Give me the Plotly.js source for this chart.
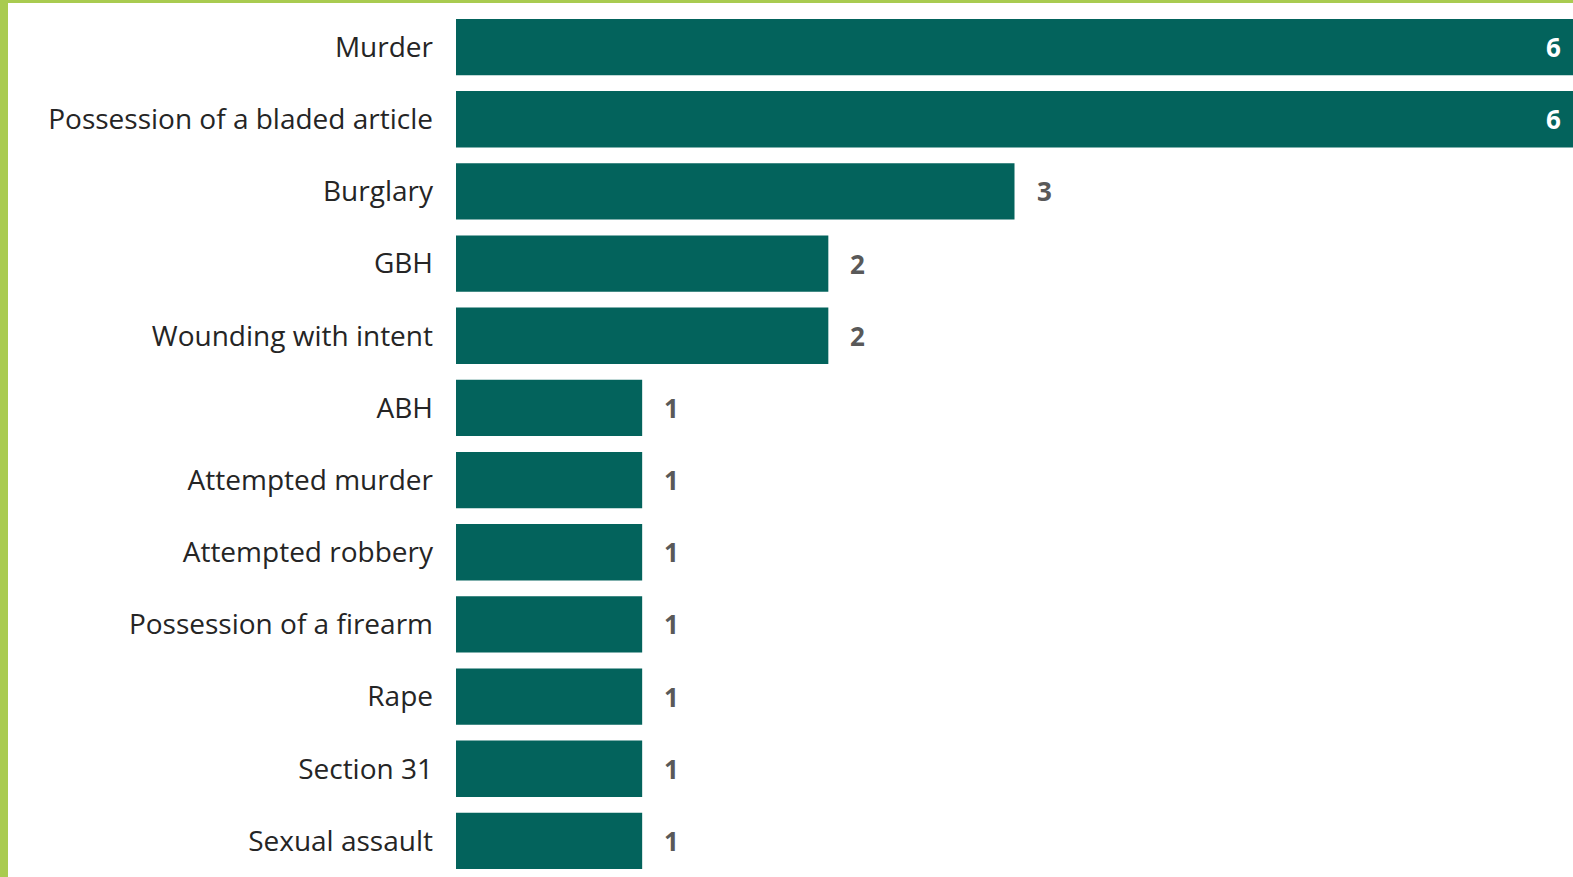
<!DOCTYPE html>
<html>
<head>
<meta charset="utf-8">
<script src="https://cdn.plot.ly/plotly-3.0.1.min.js"></script>
<style>
  html, body { margin: 0; padding: 0; background: #fff; overflow: hidden; }
  #chart { position: absolute; left: 0; top: 0; width: 1573px; height: 877px; }
  #bl { position: absolute; left: 0; top: 0; width: 8px; height: 877px; background: #a9cb50; }
  #bt { position: absolute; left: 0; top: 0; width: 1573px; height: 3px; background: #a9cb50; }
</style>
</head>
<body>
<div id="chart"></div>
<div id="bl"></div>
<div id="bt"></div>
<script>
const categories = [
  "Murder",
  "Possession of a bladed article",
  "Burglary",
  "GBH",
  "Wounding with intent",
  "ABH",
  "Attempted murder",
  "Attempted robbery",
  "Possession of a firearm",
  "Rape",
  "Section 31",
  "Sexual assault"
];
const counts = [6, 6, 3, 2, 2, 1, 1, 1, 1, 1, 1, 1];

const maxVal = Math.max(...counts);
const FONT = "'Open Sans', 'Noto Sans', sans-serif";

const annotations = categories.map((c, i) => {
  const inside = counts[i] >= maxVal;
  return {
    x: counts[i], y: c, xref: 'x', yref: 'y',
    text: String(counts[i]),
    showarrow: false,
    xanchor: inside ? 'right' : 'left',
    xshift: inside ? -10 : 20,
    font: { family: FONT, size: 26, color: inside ? '#ffffff' : '#595959', weight: 'bold' }
  };
});

const trace = {
  type: 'bar',
  orientation: 'h',
  x: counts,
  y: categories,
  marker: { color: '#03635c' },
  hoverinfo: 'none'
};

const layout = {
  width: 1573, height: 877,
  margin: { l: 456, r: 0, t: 11, b: 0 },
  paper_bgcolor: '#ffffff',
  plot_bgcolor: '#ffffff',
  bargap: 0.22,
  showlegend: false,
  xaxis: { range: [0, 6], visible: false, fixedrange: true },
  yaxis: {
    autorange: 'reversed',
    showgrid: false, zeroline: false, showline: false,
    ticks: '', ticklabelstandoff: 22,
    tickfont: { family: FONT, size: 28, color: '#252525' }
  },
  annotations: annotations
};

Plotly.newPlot('chart', [trace], layout, { displayModeBar: false, staticPlot: true });
</script>
</body>
</html>
